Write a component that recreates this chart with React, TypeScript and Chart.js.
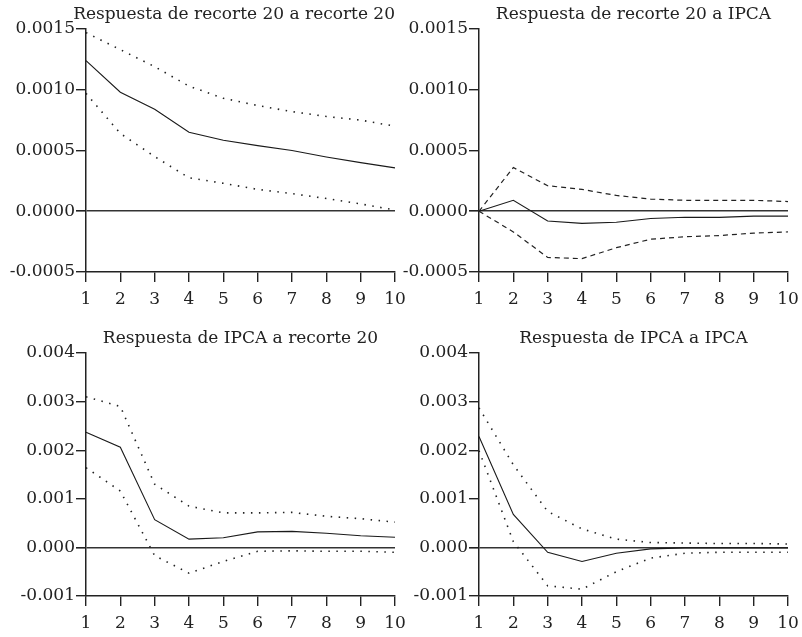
import React, { useEffect, useRef } from 'react';
import { Chart, registerables } from 'chart.js';

Chart.register(...registerables);

// ---------- data ----------
const periods = ['1', '2', '3', '4', '5', '6', '7', '8', '9', '10'];

const yTicksTop = [-0.0005, 0, 0.0005, 0.001, 0.0015];
const yTicksBottom = [-0.001, 0, 0.001, 0.002, 0.003, 0.004];

const title11 = 'Respuesta de recorte 20 a recorte 20';
const resp11 = [0.00124, 0.00098, 0.00084, 0.00065, 0.000585, 0.00054, 0.0005, 0.000447, 0.0004, 0.000357];
const upper11 = [0.00147, 0.00133, 0.00119, 0.00103, 0.00093, 0.00087, 0.00082, 0.00078, 0.00075, 0.0007];
const lower11 = [0.00097, 0.00064, 0.00045, 0.000275, 0.00023, 0.00018, 0.000145, 0.000105, 0.00006, 0.00001];

const title12 = 'Respuesta de recorte 20 a IPCA';
const resp12 = [0, 0.00009, -0.00008, -0.0001, -0.00009, -0.00006, -0.00005, -0.00005, -0.00004, -0.00004];
const upper12 = [0, 0.00036, 0.00021, 0.00018, 0.00013, 0.0001, 0.00009, 0.00009, 0.00009, 0.00008];
const lower12 = [0, -0.00017, -0.00038, -0.00039, -0.0003, -0.00023, -0.00021, -0.0002, -0.00018, -0.00017];

const title21 = 'Respuesta de IPCA a recorte 20';
const resp21 = [0.00237, 0.00206, 0.00057, 0.00017, 0.0002, 0.00032, 0.00033, 0.00029, 0.00024, 0.00021];
const upper21 = [0.0031, 0.0029, 0.0013, 0.00085, 0.00071, 0.00071, 0.00072, 0.00064, 0.00059, 0.00052];
const lower21 = [0.00164, 0.00116, -0.00017, -0.00053, -0.00029, -0.00008, -0.00007, -0.00008, -0.00008, -0.0001];

const title22 = 'Respuesta de IPCA a IPCA';
const resp22 = [0.00228, 0.00068, -0.0001, -0.00029, -0.00012, -0.00003, -0.00001, -0.00001, -0.00001, -0.00001];
const upper22 = [0.00287, 0.0017, 0.00074, 0.00038, 0.00017, 0.0001, 0.00009, 0.00008, 0.00008, 0.00007];
const lower22 = [0.00199, 0.00012, -0.00079, -0.00086, -0.0005, -0.00022, -0.00012, -0.0001, -0.0001, -0.0001];

// ---------- styling ----------
const FONT = '"DejaVu Serif", "Liberation Serif", serif';
const INK = '#222';
const DOTTED = [1.5, 6.5];
const DASHED = [5, 4];

const CANVAS_W = 430;
const CANVAS_H = 318;
const PAD_R = 35;
const AREA_LEFT = 86;

type PanelProps = {
  title: string;
  wideTitle: boolean;
  resp: number[];
  upper: number[];
  lower: number[];
  yTicks: number[];
  decimals: number;
  dash: number[];
  left: number;
  top: number;
};

function Panel(p: PanelProps) {
  const ref = useRef<HTMLCanvasElement | null>(null);
  useEffect(() => {
    if (!ref.current) return;
    const band = (data: number[]) => ({
      data,
      borderColor: INK,
      borderWidth: p.dash === DOTTED ? 1.6 : 1.2,
      borderDash: p.dash,
      borderCapStyle: 'butt' as const,
      pointRadius: 0,
      tension: 0,
    });
    const chart = new Chart(ref.current, {
      type: 'line',
      data: {
        labels: periods,
        datasets: [
          band(p.upper),
          band(p.lower),
          { data: p.resp, borderColor: '#1a1a1a', borderWidth: 1.1, pointRadius: 0, tension: 0 },
        ],
      },
      options: {
        animation: false,
        responsive: true,
        maintainAspectRatio: false,
        layout: { padding: { left: 0, right: PAD_R, top: 0, bottom: 0 } },
        plugins: {
          legend: { display: false },
          tooltip: { enabled: false },
          title: {
            display: true,
            text: p.title,
            fullSize: p.wideTitle,
            align: p.wideTitle ? 'end' : 'center',
            color: INK,
            font: { family: FONT, size: 17, weight: 'normal' },
            padding: { top: 4.6, bottom: 4 },
          },
        },
        scales: {
          x: {
            type: 'category',
            offset: false,
            grid: {
              display: true,
              drawOnChartArea: false,
              drawTicks: true,
              tickLength: 10,
              color: INK,
              lineWidth: 1.4,
            },
            border: { display: true, color: INK, width: 1.5 },
            ticks: {
              color: INK,
              font: { family: FONT, size: 17 },
              padding: 7,
              autoSkip: false,
              maxRotation: 0,
              minRotation: 0,
            },
            afterFit: (s: any) => {
              s.height = 46;
            },
          },
          y: {
            type: 'linear',
            min: p.yTicks[0],
            max: p.yTicks[p.yTicks.length - 1],
            afterBuildTicks: (s: any) => {
              s.ticks = p.yTicks.map((v) => ({ value: v }));
            },
            grid: {
              display: true,
              drawOnChartArea: true,
              drawTicks: true,
              tickLength: 10,
              color: (ctx: any) => (ctx.tick && ctx.tick.value === 0 ? '#333' : 'rgba(0,0,0,0)'),
              tickColor: INK,
              lineWidth: (ctx: any) => (ctx.tick && ctx.tick.value === 0 ? 1.6 : 1.4),
            },
            border: { display: true, color: INK, width: 1.5 },
            ticks: {
              color: INK,
              font: { family: FONT, size: 17 },
              padding: 1,
              callback: (v: any) => Number(v).toFixed(p.decimals),
            },
            afterFit: (s: any) => {
              s.width = AREA_LEFT;
            },
          },
        },
      },
    });
    return () => chart.destroy();
  }, []);
  return (
    <div
      style={{
        position: 'absolute',
        left: p.left,
        top: p.top,
        width: CANVAS_W,
        height: CANVAS_H,
      }}
    >
      <canvas ref={ref} />
    </div>
  );
}

export default function App() {
  return (
    <div
      style={{
        position: 'absolute',
        left: 0,
        top: 0,
        width: 802,
        height: 637,
        overflow: 'hidden',
        background: '#fff',
      }}
    >
      <Panel title={title11} wideTitle={true} resp={resp11} upper={upper11} lower={lower11} yTicks={yTicksTop} decimals={4} dash={DOTTED} left={0} top={0} />
      <Panel title={title12} wideTitle={false} resp={resp12} upper={upper12} lower={lower12} yTicks={yTicksTop} decimals={4} dash={DASHED} left={393} top={0} />
      <Panel title={title21} wideTitle={false} resp={resp21} upper={upper21} lower={lower21} yTicks={yTicksBottom} decimals={3} dash={DOTTED} left={0} top={324} />
      <Panel title={title22} wideTitle={false} resp={resp22} upper={upper22} lower={lower22} yTicks={yTicksBottom} decimals={3} dash={DOTTED} left={393} top={324} />
    </div>
  );
}
